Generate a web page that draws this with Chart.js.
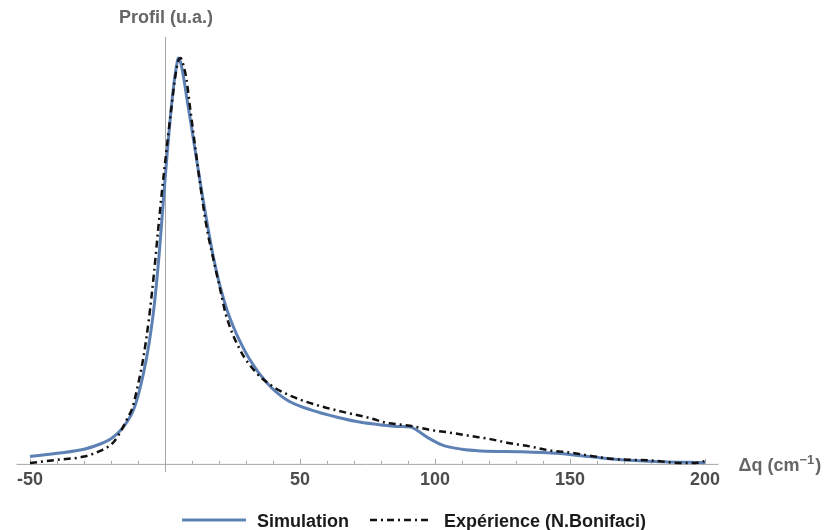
<!DOCTYPE html>
<html>
<head>
<meta charset="utf-8">
<title>Profil</title>
<script src="https://cdn.jsdelivr.net/npm/chart.js@4/dist/chart.umd.min.js"></script>
<style>
  body { margin: 0; background: #fff; }
  canvas { display: block; }
</style>
</head>
<body>
<canvas id="profilChart" width="825" height="530"></canvas>
<script>
// Δq (cm-1) and normalised profile, simulation
const simX = [-50, -40, -30, -24, -20, -16, -12, -10, -8, -6, -4, -2, -1, 0, 1, 2, 3, 4, 5, 6, 7, 8, 10, 12, 14, 16, 18, 20, 22, 24, 26.5, 31.5, 37.7, 45, 54, 65, 72, 80, 87, 91, 93, 97.5, 102.5, 110, 117, 132, 140, 145, 157, 169, 181.5, 200];
const simY = [0.018, 0.026, 0.036, 0.049, 0.062, 0.086, 0.128, 0.167, 0.222, 0.293, 0.390, 0.530, 0.615, 0.700, 0.780, 0.855, 0.920, 0.970, 1.000, 0.983, 0.948, 0.905, 0.822, 0.738, 0.655, 0.578, 0.507, 0.448, 0.400, 0.360, 0.320, 0.256, 0.200, 0.158, 0.133, 0.113, 0.103, 0.096, 0.092, 0.091, 0.084, 0.064, 0.047, 0.036, 0.032, 0.030, 0.028, 0.026, 0.018, 0.010, 0.006, 0.003];

// measured profile (N. Bonifaci)
const expX = [-50, -40, -30, -24, -19, -15.5, -14, -12, -10, -8, -6, -4, -2.5, -1, 0, 1, 2.5, 3.7, 5, 5.8, 6.8, 8, 9.3, 11.1, 13, 15.4, 17.9, 20.4, 22.5, 27.8, 33.9, 40.1, 47.5, 56.2, 67.3, 75.9, 82, 87, 90.7, 98, 105.6, 113, 120.4, 127.8, 135.2, 142.6, 150, 157.4, 166, 173.5, 181, 188.3, 195.7, 200];
const expY = [0.002, 0.010, 0.018, 0.032, 0.054, 0.091, 0.111, 0.140, 0.195, 0.262, 0.355, 0.475, 0.580, 0.680, 0.740, 0.800, 0.885, 0.950, 0.995, 1.000, 0.983, 0.946, 0.877, 0.785, 0.690, 0.584, 0.505, 0.431, 0.369, 0.281, 0.224, 0.190, 0.165, 0.145, 0.126, 0.113, 0.101, 0.097, 0.094, 0.084, 0.077, 0.069, 0.061, 0.051, 0.043, 0.033, 0.028, 0.020, 0.012, 0.010, 0.008, 0.003, 0.002, 0.007];

const tickValues = [-50, 50, 100, 150, 200];
const tickLabels = ["-50", "50", "100", "150", "200"];
const minorStep = 10;

const seriesNames = ["Simulation", "Expérience (N.Bonifaci)"];
const blue = "#5E81B5";
const dashDot = [7, 4, 2, 4];

const toPoints = (xs, ys) => xs.map((x, i) => ({ x: x, y: ys[i] }));

const axesPlugin = {
    id: "mathAxes",
    beforeDatasetsDraw(chart) {
        const ctx = chart.ctx;
        const xs = chart.scales.x;
        const ys = chart.scales.y;
        const y0 = ys.getPixelForValue(0);
        const x0 = xs.getPixelForValue(0);
        ctx.save();
        ctx.strokeStyle = "#a6a6a6";
        ctx.lineWidth = 1;
        // horizontal axis
        ctx.beginPath();
        ctx.moveTo(xs.left, y0 + 0.5);
        ctx.lineTo(xs.right, y0 + 0.5);
        ctx.stroke();
        // vertical axis through Δq = 0
        ctx.beginPath();
        ctx.moveTo(Math.round(x0) + 0.5, ys.top);
        ctx.lineTo(Math.round(x0) + 0.5, ys.bottom);
        ctx.stroke();
        // tick marks pointing up
        for (let v = -50; v <= 200; v += minorStep) {
            if (v === 0) continue;
            const px = Math.round(xs.getPixelForValue(v)) + 0.5;
            const len = tickValues.includes(v) ? 5 : 3;
            ctx.beginPath();
            ctx.moveTo(px, y0);
            ctx.lineTo(px, y0 - len);
            ctx.stroke();
        }
        ctx.restore();
    },
    afterDraw(chart) {
        const ctx = chart.ctx;
        const xs = chart.scales.x;
        const ys = chart.scales.y;
        const y0 = ys.getPixelForValue(0);
        const x0 = xs.getPixelForValue(0);
        ctx.save();
        ctx.font = "bold 18px 'Liberation Sans', Arial, sans-serif";

        // tick labels
        ctx.fillStyle = "#4d4d4d";
        ctx.textAlign = "center";
        ctx.textBaseline = "alphabetic";
        tickValues.forEach((v, i) => {
            ctx.fillText(tickLabels[i], xs.getPixelForValue(v), y0 + 21);
        });

        // axis titles
        ctx.fillStyle = "#666666";
        ctx.fillText("Profil (u.a.)", x0 + 1, 23);

        ctx.textAlign = "left";
        let tx = xs.right + 20;
        const base = y0 + 7;
        const head = "Δq (cm";
        ctx.fillText(head, tx, base);
        tx += ctx.measureText(head).width;
        ctx.font = "bold 13px 'Liberation Sans', Arial, sans-serif";
        ctx.fillText("−1", tx, base - 7);
        tx += ctx.measureText("−1").width + 1;
        ctx.font = "bold 18px 'Liberation Sans', Arial, sans-serif";
        ctx.fillText(")", tx, base);

        // legend
        const ly = 520;
        ctx.lineWidth = 3;
        ctx.strokeStyle = blue;
        ctx.beginPath();
        ctx.moveTo(182, ly);
        ctx.lineTo(246, ly);
        ctx.stroke();
        ctx.strokeStyle = "#111";
        ctx.lineWidth = 2.5;
        ctx.setLineDash(dashDot);
        ctx.beginPath();
        ctx.moveTo(370, ly);
        ctx.lineTo(428, ly);
        ctx.stroke();
        ctx.setLineDash([]);
        ctx.fillStyle = "#1a1a1a";
        ctx.fillText(seriesNames[0], 257, ly + 7);
        ctx.fillText(seriesNames[1], 444, ly + 7);
        ctx.restore();
    }
};

new Chart(document.getElementById("profilChart"), {
    type: "line",
    data: {
        datasets: [
            {
                label: seriesNames[1],
                data: toPoints(expX, expY),
                borderColor: "#111",
                borderWidth: 2.5,
                borderDash: dashDot,
                pointRadius: 0,
                cubicInterpolationMode: "monotone",
                clip: false,
                order: 0,
            },
            {
                label: seriesNames[0],
                data: toPoints(simX, simY),
                borderColor: blue,
                borderWidth: 3,
                pointRadius: 0,
                cubicInterpolationMode: "monotone",
                clip: false,
                order: 1,
            },
        ],
    },
    options: {
        responsive: false,
        devicePixelRatio: 1,
        animation: false,
        layout: { padding: { left: 16.5, right: 106.5, top: 37, bottom: 58 } },
        plugins: { legend: { display: false }, tooltip: { enabled: false } },
        scales: {
            x: { type: "linear", min: -55, max: 205, display: false },
            y: { type: "linear", min: -0.02, max: 1.052, display: false },
        },
    },
    plugins: [axesPlugin],
});
</script>
</body>
</html>
